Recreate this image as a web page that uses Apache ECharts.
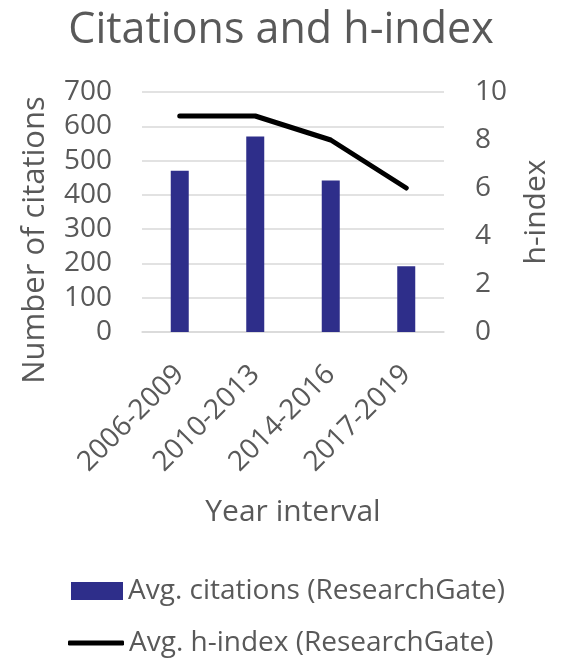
<!DOCTYPE html>
<html>
<head>
<meta charset="utf-8">
<script src="https://cdn.jsdelivr.net/npm/echarts@6/dist/echarts.min.js"></script>
<style>
  html, body { margin: 0; padding: 0; background: #fff; }
  #chart { width: 562px; height: 661px; }
</style>
</head>
<body>
<div id="chart"></div>
<script>
// Year intervals and the two averaged metrics
const yearIntervals = ['2006-2009', '2010-2013', '2014-2016', '2017-2019'];
const avgCitations = [470, 570, 442, 192];
const avgHIndex = [9, 9, 8, 6];

const FONT = 'Open Sans';
const GREY = '#595959';
const CITE_NAME = 'Avg. citations (ResearchGate)';
const H_NAME = 'Avg. h-index (ResearchGate)';

const chart = echarts.init(document.getElementById('chart'));
chart.setOption({
  backgroundColor: '#ffffff',
  textStyle: { fontFamily: FONT, color: GREY },
  title: {
    text: 'Citations and h-index',
    left: 'center',
    top: 4,
    textStyle: { fontFamily: FONT, fontSize: 43, fontWeight: 'normal', color: GREY }
  },
  grid: { left: 142, right: 118, top: 92, bottom: 329, containLabel: false },
  legend: [
    {
      left: 71,
      top: 574,
      padding: 0,
      itemWidth: 52,
      itemHeight: 18,
      textStyle: { fontFamily: FONT, fontSize: 28, color: GREY, lineHeight: 34 },
      data: [{ name: CITE_NAME, icon: 'rect' }]
    },
    {
      left: 68,
      top: 626,
      padding: 0,
      itemWidth: 56,
      itemHeight: 5,
      textStyle: { fontFamily: FONT, fontSize: 28, color: GREY, lineHeight: 34 },
      data: [{ name: H_NAME, icon: 'roundRect' }]
    }
  ],
  xAxis: {
    type: 'category',
    data: yearIntervals,
    name: 'Year interval',
    nameLocation: 'middle',
    nameGap: 165,
    nameTextStyle: { fontFamily: FONT, fontSize: 30, color: GREY },
    axisLine: { show: true, lineStyle: { color: '#d9d9d9', width: 1.5 } },
    axisTick: { show: false },
    axisLabel: { rotate: 45, fontFamily: FONT, fontSize: 28, color: GREY, margin: 38 }
  },
  yAxis: [
    {
      type: 'value',
      min: 0, max: 700, interval: 100,
      axisLine: { show: false },
      axisTick: { show: false },
      axisLabel: { fontFamily: FONT, fontSize: 28, color: GREY, margin: 30 },
      splitLine: { lineStyle: { color: '#d9d9d9', width: 1.5 } }
    },
    {
      type: 'value',
      min: 0, max: 10, interval: 2,
      position: 'right',
      axisLine: { show: false },
      axisTick: { show: false },
      axisLabel: { fontFamily: FONT, fontSize: 28, color: GREY, margin: 31 },
      splitLine: { show: false }
    }
  ],
  graphic: [
    {
      type: 'text',
      x: 35, y: 240,
      rotation: Math.PI / 2,
      style: {
        text: 'Number of citations',
        font: '31px "Open Sans"',
        fill: GREY,
        align: 'center',
        verticalAlign: 'middle'
      }
    },
    {
      type: 'text',
      x: 536, y: 212,
      rotation: Math.PI / 2,
      style: {
        text: 'h-index',
        font: '30px "Open Sans"',
        fill: GREY,
        align: 'center',
        verticalAlign: 'middle'
      }
    }
  ],
  series: [
    {
      name: CITE_NAME,
      type: 'bar',
      data: avgCitations,
      barWidth: 18,
      itemStyle: { color: '#2e2e8a' }
    },
    {
      name: H_NAME,
      type: 'line',
      yAxisIndex: 1,
      data: avgHIndex,
      symbol: 'none',
      lineStyle: { color: '#000000', width: 5, cap: 'round', join: 'round' },
      itemStyle: { color: '#000000' }
    }
  ]
});
</script>
</body>
</html>
